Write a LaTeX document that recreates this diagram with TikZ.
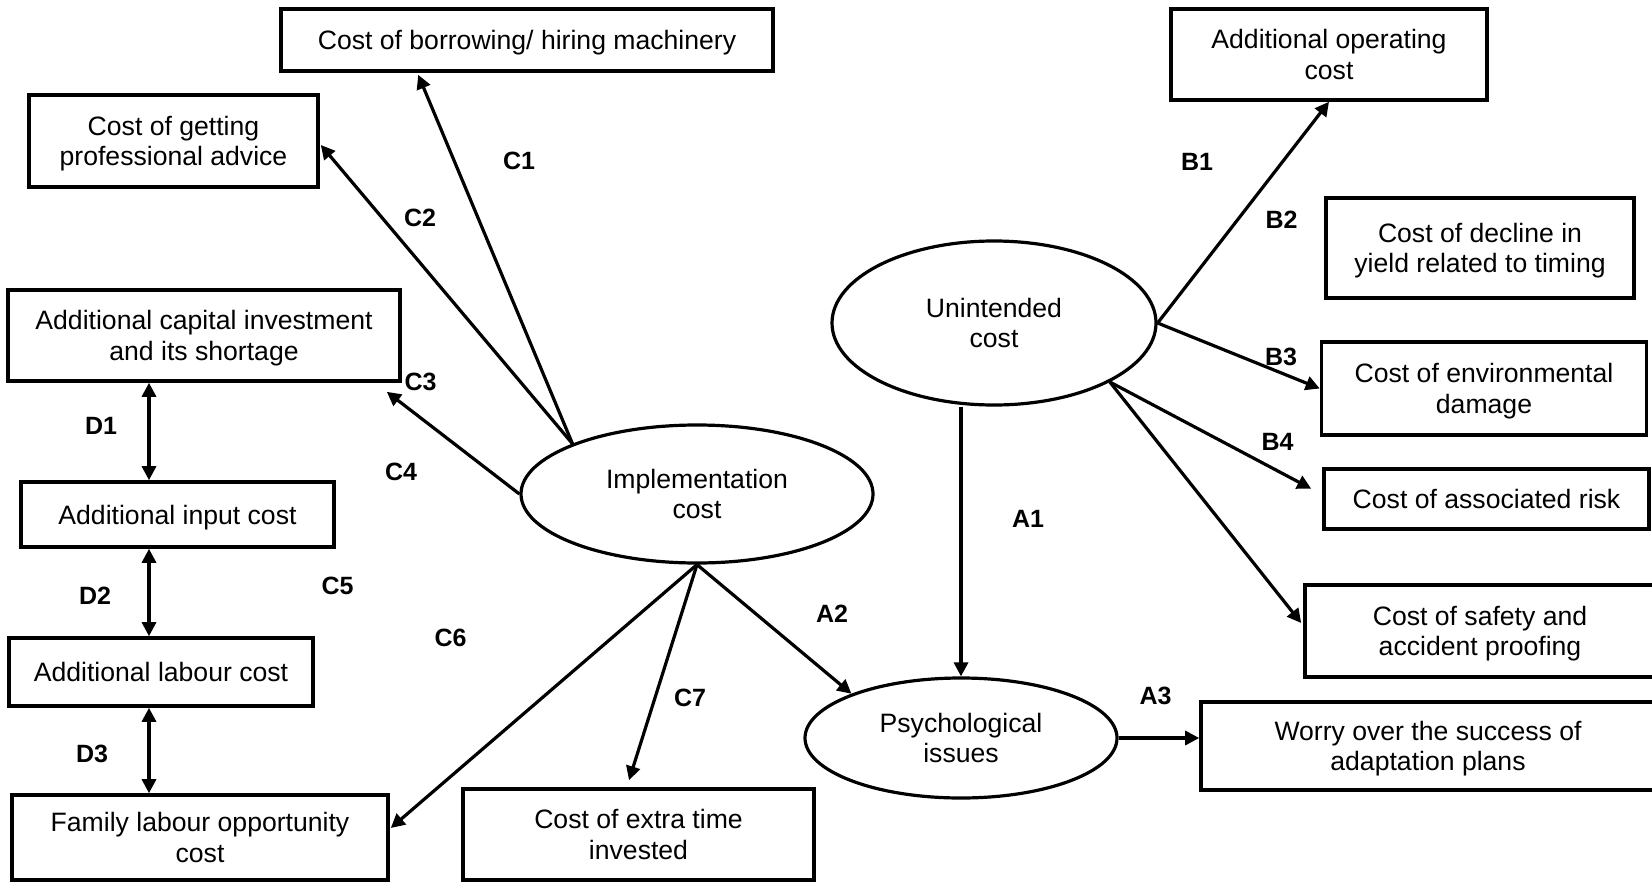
\documentclass[tikz,border=0pt]{standalone}
\usepackage{fontspec}
\setmainfont{Liberation Sans}
\usetikzlibrary{arrows.meta,calc,shapes.geometric}

\begin{document}
\begin{tikzpicture}[x=0.5pt,y=-0.5pt,
  every node/.style={font=\fontsize{13.3}{15.3}\selectfont},
  costbox/.style={draw, line width=1.8pt, rectangle, align=center, inner sep=0pt, text depth=0pt},
  factor/.style={draw, line width=1.6pt, ellipse, align=center, inner sep=0pt, text depth=0pt},
  link/.style={line width=1.6pt, -{Triangle[length=7pt,width=7pt]}},
  duo/.style={line width=1.6pt, {Triangle[length=7pt,width=7pt]}-{Triangle[length=7pt,width=7pt]}},
  tag/.style={font=\fontsize{12.5}{14}\selectfont\bfseries, inner sep=0pt}]

\useasboundingbox (0,0) rectangle (1652,882);

% cost categories
\node[factor, minimum width=176pt, minimum height=69pt] (impl) at (697,494) {Implementation\\cost};
\node[factor, minimum width=162pt, minimum height=82pt] (unint) at (994,323) {Unintended\\cost};
\node[factor, minimum width=156pt, minimum height=60pt] (psych) at (961,738) {Psychological\\issues};

% implementation cost items
\node[costbox, minimum width=246pt, minimum height=31pt] (borrow) at (527,40) {Cost of borrowing/ hiring machinery};
\node[costbox, minimum width=144.5pt, minimum height=46pt] (advice) at (173.5,141) {Cost of getting\\professional advice};
\node[costbox, minimum width=196pt, minimum height=45.5pt] (capital) at (204,335.5) {Additional capital investment\\and its shortage};
\node[costbox, minimum width=156.5pt, minimum height=32.5pt] (input) at (177.5,514.5) {Additional input cost};
\node[costbox, minimum width=152pt, minimum height=34pt] (labour) at (161,672) {Additional labour cost};
\node[costbox, minimum width=188pt, minimum height=42.5pt] (family) at (200,837.5) {Family labour opportunity\\cost};
\node[costbox, minimum width=175.5pt, minimum height=45.5pt] (extra) at (638.5,834.5) {Cost of extra time\\invested};

% unintended cost items
\node[costbox, minimum width=158pt, minimum height=45.5pt] (operating) at (1329,54.5) {Additional operating\\cost};
\node[costbox, minimum width=154pt, minimum height=50pt] (decline) at (1480,248) {Cost of decline in\\yield related to timing};
\node[costbox, minimum width=162.5pt, minimum height=46.5pt] (env) at (1484,388.5) {Cost of environmental\\damage};
\node[costbox, minimum width=162.5pt, minimum height=30pt] (risk) at (1486.5,498.7) {Cost of associated risk};
\node[costbox, minimum width=175pt, minimum height=46pt] (safety) at (1480,631) {Cost of safety and\\accident proofing};

% psychological item
\node[costbox, minimum width=227pt, minimum height=44pt] (worry) at (1428,746) {Worry over the success of\\adaptation plans};

% helper column for the D links
\coordinate (dcol) at (149,0);

% C links
\draw[link] (impl.158.6) -- ($(borrow.south west)+(139,2)$);
\draw[link] (impl.158.6) -- ($(advice.east)+(1,4)$);
\draw[link] (impl.west) -- ($(capital.south east)+(-15,9)$);
\draw[link] (impl.south) -- ($(family.east)+(1,-9.5)$);
\draw[link] (impl.south) -- ($(extra.north)+(-9.5,-7)$);

% A links
\draw[link] (impl.south) -- (psych.158);
\draw[link] (psych.north |- unint.south) -- (psych.north);
\draw[link] (psych.east) -- (psych.east -| worry.west);

% B links
\draw[link] (unint.east) -- (operating.south);
\draw[link] (unint.east) -- (env.west);
\draw[link] (unint.-27) -- ($(risk.west)+(-11,-10)$);
\draw[link] (unint.-27) -- ($(safety.west)+(-2,-8)$);

% D links
\draw[duo] (capital.south -| dcol) -- (input.north -| dcol);
\draw[duo] (input.south -| dcol) -- (labour.north -| dcol);
\draw[duo] (labour.south -| dcol) -- (family.north -| dcol);

% link labels
\node[tag] (tc1) at (519,161) {C1};
\node[tag] (tc2) at (420,218) {C2};
\node[tag] (tc3) at (420.5,382) {C3};
\node[tag] (tc4) at (401,472) {C4};
\node[tag] (tc5) at (337.5,586) {C5};
\node[tag] (tc6) at (450.5,638) {C6};
\node[tag] (tc7) at (690,698) {C7};
\node[tag] (td1) at (101,426) {D1};
\node[tag] (td2) at (95,596) {D2};
\node[tag] (td3) at (92,754) {D3};
\node[tag] (tb1) at (1197,162) {B1};
\node[tag] (tb2) at (1281.5,220) {B2};
\node[tag] (tb3) at (1281,356.5) {B3};
\node[tag] (tb4) at (1277.5,442) {B4};
\node[tag] (ta1) at (1028,519) {A1};
\node[tag] (ta2) at (832,614) {A2};
\node[tag] (ta3) at (1155.5,696) {A3};
\end{tikzpicture}
\end{document}
